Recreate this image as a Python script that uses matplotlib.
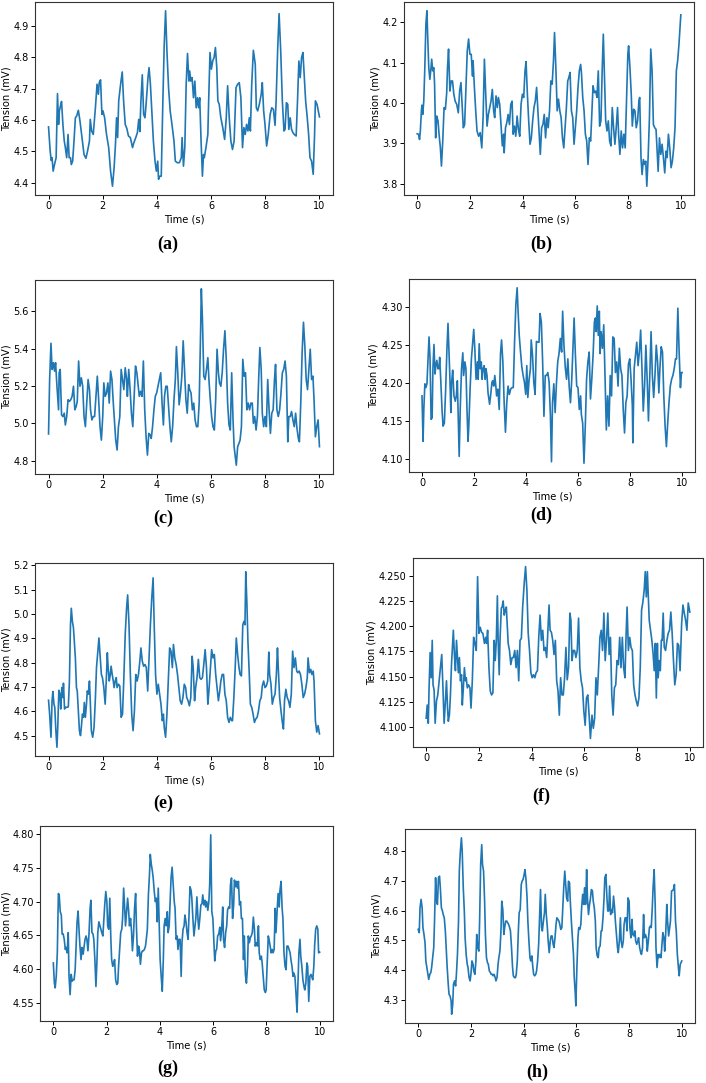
import matplotlib
matplotlib.use('Agg')
import matplotlib.pyplot as plt

# (a)
t_a = [0, 0.06, 0.10, 0.13, 0.17, 0.22, 0.28, 0.33, 0.37, 0.40, 0.44, 0.48, 0.53, 0.58, 0.62, 0.67, 0.72, 0.76, 0.81, 0.84,
       0.89, 0.94, 0.99, 1.04, 1.10, 1.16, 1.25, 1.31, 1.38, 1.44, 1.51, 1.54, 1.59, 1.65, 1.73, 1.79, 1.84, 1.87, 1.92, 1.97,
       2.01, 2.07, 2.14, 2.22, 2.29, 2.36, 2.42, 2.47, 2.51, 2.55, 2.59, 2.66, 2.72, 2.77, 2.83, 2.89, 2.95, 3.02, 3.10, 3.15,
       3.22, 3.28, 3.33, 3.37, 3.41, 3.46, 3.51, 3.56, 3.61, 3.67, 3.71, 3.76, 3.81, 3.87, 3.93, 3.98, 4.03, 4.06, 4.11, 4.16,
       4.22, 4.27, 4.32, 4.37, 4.43, 4.49, 4.57, 4.63, 4.68, 4.75, 4.83, 4.90, 4.93, 4.98, 5.03, 5.08, 5.13, 5.18, 5.21, 5.25,
       5.30, 5.35, 5.40, 5.45, 5.50, 5.54, 5.58, 5.63, 5.68, 5.72, 5.75, 5.81, 5.88, 5.91, 5.96, 6.01, 6.06, 6.11, 6.16, 6.21,
       6.25, 6.30, 6.36, 6.43, 6.50, 6.56, 6.61, 6.67, 6.73, 6.79, 6.85, 6.92, 6.98, 7.04, 7.10, 7.16, 7.21, 7.26, 7.31, 7.36,
       7.41, 7.45, 7.50, 7.56, 7.63, 7.67, 7.72, 7.78, 7.85, 7.89, 7.94, 7.99, 8.05, 8.11, 8.18, 8.24, 8.30, 8.36, 8.40, 8.46,
       8.51, 8.57, 8.63, 8.69, 8.73, 8.78, 8.83, 8.87, 8.92, 8.97, 9.02, 9.07, 9.14, 9.19, 9.24, 9.29, 9.34, 9.39, 9.44, 9.49,
       9.55, 9.60, 9.65, 9.71, 9.77, 9.82, 9.85, 9.91, 9.98, 10.0]
v_a = [4.578, 4.501, 4.471, 4.480, 4.437, 4.458, 4.480, 4.684, 4.586, 4.629, 4.645, 4.659, 4.586, 4.533, 4.512, 4.480, 4.554, 4.480, 4.480, 4.458,
       4.469, 4.533, 4.607, 4.613, 4.631, 4.597, 4.533, 4.490, 4.478, 4.501, 4.533, 4.602, 4.565, 4.554, 4.639, 4.714, 4.682, 4.719, 4.728, 4.618,
       4.629, 4.607, 4.554, 4.512, 4.437, 4.389, 4.448, 4.522, 4.607, 4.544, 4.661, 4.714, 4.753, 4.661, 4.586, 4.573, 4.549, 4.544, 4.512, 4.528,
       4.544, 4.560, 4.602, 4.563, 4.661, 4.744, 4.618, 4.607, 4.661, 4.735, 4.767, 4.714, 4.629, 4.533, 4.469, 4.437, 4.469, 4.411, 4.421, 4.421,
       4.661, 4.841, 4.948, 4.820, 4.703, 4.629, 4.576, 4.533, 4.469, 4.464, 4.464, 4.480, 4.544, 4.453, 4.512, 4.714, 4.812, 4.724, 4.756, 4.724,
       4.735, 4.671, 4.724, 4.639, 4.671, 4.639, 4.671, 4.533, 4.421, 4.490, 4.480, 4.512, 4.554, 4.661, 4.815, 4.762, 4.788, 4.799, 4.831, 4.767,
       4.661, 4.650, 4.607, 4.576, 4.538, 4.607, 4.709, 4.607, 4.533, 4.506, 4.533, 4.703, 4.714, 4.719, 4.671, 4.512, 4.576, 4.554, 4.586, 4.565,
       4.607, 4.565, 4.714, 4.822, 4.778, 4.639, 4.629, 4.650, 4.682, 4.719, 4.629, 4.586, 4.517, 4.554, 4.618, 4.639, 4.634, 4.583, 4.661, 4.831,
       4.939, 4.820, 4.661, 4.565, 4.570, 4.655, 4.650, 4.570, 4.607, 4.570, 4.560, 4.554, 4.549, 4.661, 4.788, 4.735, 4.799, 4.815, 4.735, 4.661,
       4.607, 4.554, 4.480, 4.469, 4.427, 4.554, 4.661, 4.650, 4.618, 4.610]

# (b)
t_b = [0, 0.05, 0.09, 0.12, 0.16, 0.18, 0.21, 0.25, 0.29, 0.33, 0.37, 0.40, 0.44, 0.48, 0.52, 0.55, 0.59, 0.63, 0.66, 0.70,
       0.74, 0.79, 0.83, 0.88, 0.92, 0.97, 1.02, 1.07, 1.12, 1.15, 1.19, 1.24, 1.29, 1.34, 1.39, 1.44, 1.50, 1.56, 1.61, 1.66,
       1.71, 1.75, 1.80, 1.85, 1.90, 1.95, 2.00, 2.05, 2.10, 2.12, 2.17, 2.22, 2.27, 2.33, 2.39, 2.45, 2.50, 2.55, 2.60, 2.65,
       2.70, 2.75, 2.80, 2.85, 2.90, 2.94, 2.99, 3.04, 3.08, 3.13, 3.18, 3.23, 3.28, 3.30, 3.35, 3.40, 3.45, 3.50, 3.55, 3.60,
       3.64, 3.69, 3.74, 3.79, 3.84, 3.89, 3.94, 3.99, 4.04, 4.09, 4.13, 4.18, 4.23, 4.28, 4.33, 4.38, 4.43, 4.48, 4.53, 4.58,
       4.63, 4.67, 4.72, 4.77, 4.82, 4.87, 4.92, 4.97, 5.02, 5.07, 5.12, 5.17, 5.21, 5.26, 5.31, 5.36, 5.41, 5.46, 5.51, 5.56,
       5.61, 5.66, 5.71, 5.75, 5.80, 5.85, 5.90, 5.95, 6.00, 6.05, 6.10, 6.15, 6.20, 6.23, 6.28, 6.33, 6.38, 6.43, 6.48, 6.53,
       6.58, 6.63, 6.67, 6.72, 6.77, 6.82, 6.87, 6.92, 6.97, 7.02, 7.06, 7.10, 7.15, 7.20, 7.25, 7.30, 7.35, 7.40, 7.45, 7.50,
       7.55, 7.60, 7.64, 7.69, 7.74, 7.79, 7.84, 7.89, 7.94, 7.99, 8.02, 8.07, 8.12, 8.16, 8.21, 8.26, 8.31, 8.36, 8.41, 8.44,
       8.49, 8.53, 8.58, 8.63, 8.67, 8.71, 8.76, 8.81, 8.86, 8.91, 8.96, 9.01, 9.06, 9.10, 9.14, 9.19, 9.24, 9.29, 9.34, 9.39,
       9.44, 9.48, 9.53, 9.58, 9.63, 9.68, 9.73, 9.78, 9.83, 9.88, 9.93, 10.0]
v_b = [3.924, 3.923, 3.910, 3.931, 3.981, 3.995, 3.972, 4.005, 4.088, 4.196, 4.229, 4.163, 4.088, 4.059, 4.084, 4.109, 4.080, 4.088, 4.047, 3.914,
       3.968, 3.956, 3.923, 3.889, 3.844, 3.906, 3.989, 3.985, 4.026, 4.088, 4.134, 4.030, 4.055, 4.055, 4.022, 4.005, 3.997, 3.976, 4.030, 4.051,
       3.989, 3.939, 3.947, 4.039, 4.130, 4.159, 4.121, 4.121, 4.067, 4.105, 4.039, 3.981, 3.931, 3.918, 3.927, 3.889, 3.964, 4.109, 4.022, 3.943,
       3.972, 3.989, 4.005, 4.034, 3.981, 3.964, 4.018, 3.989, 4.014, 3.997, 3.947, 3.894, 3.923, 3.877, 3.939, 3.952, 3.972, 3.947, 3.997, 4.005,
       3.923, 3.943, 3.918, 3.968, 3.935, 3.918, 3.997, 4.022, 4.014, 4.080, 4.103, 4.022, 3.956, 3.898, 3.914, 3.956, 3.989, 4.005, 4.039, 3.981,
       3.923, 3.873, 3.939, 3.947, 3.972, 3.914, 3.964, 3.939, 3.981, 4.055, 4.047, 4.105, 4.175, 4.088, 3.981, 4.010, 3.981, 3.964, 3.914, 3.889,
       3.939, 3.989, 4.055, 4.063, 4.076, 3.981, 3.964, 3.898, 3.939, 3.981, 4.039, 4.080, 4.096, 4.076, 4.014, 3.981, 3.923, 3.906, 3.848, 3.914,
       3.906, 3.981, 4.043, 4.026, 4.030, 4.014, 4.080, 3.943, 3.956, 4.088, 4.171, 4.072, 3.956, 3.931, 3.956, 3.906, 3.894, 3.989, 3.939, 3.898,
       3.939, 3.989, 3.923, 3.873, 3.931, 3.889, 3.923, 3.889, 4.005, 4.121, 4.142, 4.088, 4.022, 3.943, 3.985, 3.981, 3.939, 3.956, 4.005, 4.014,
       3.865, 3.823, 3.860, 3.848, 3.856, 3.794, 3.865, 3.964, 4.134, 4.080, 3.947, 3.939, 3.935, 3.881, 3.831, 3.914, 3.873, 3.898, 3.865, 3.827,
       3.881, 3.865, 3.923, 3.889, 3.840, 3.856, 3.889, 3.939, 4.080, 4.105, 4.146, 4.219]

# (c)
t_c = [0, 0.04, 0.09, 0.13, 0.18, 0.22, 0.26, 0.31, 0.37, 0.39, 0.43, 0.48, 0.53, 0.58, 0.62, 0.67, 0.72, 0.77, 0.82, 0.87,
       0.92, 0.97, 1.02, 1.06, 1.11, 1.16, 1.21, 1.26, 1.31, 1.36, 1.41, 1.46, 1.51, 1.55, 1.60, 1.65, 1.70, 1.75, 1.80, 1.85,
       1.90, 1.95, 2.00, 2.04, 2.09, 2.14, 2.19, 2.24, 2.29, 2.34, 2.39, 2.44, 2.48, 2.53, 2.58, 2.63, 2.68, 2.73, 2.78, 2.83,
       2.88, 2.91, 2.96, 3.01, 3.06, 3.11, 3.16, 3.21, 3.26, 3.30, 3.35, 3.40, 3.45, 3.50, 3.55, 3.60, 3.65, 3.70, 3.75, 3.79,
       3.84, 3.89, 3.94, 3.99, 4.04, 4.09, 4.14, 4.19, 4.24, 4.28, 4.33, 4.38, 4.43, 4.48, 4.53, 4.58, 4.63, 4.68, 4.72, 4.77,
       4.82, 4.87, 4.92, 4.97, 5.02, 5.07, 5.12, 5.17, 5.21, 5.26, 5.31, 5.36, 5.41, 5.46, 5.51, 5.56, 5.61, 5.64, 5.68, 5.73,
       5.78, 5.83, 5.88, 5.92, 5.97, 6.02, 6.07, 6.12, 6.17, 6.22, 6.27, 6.31, 6.36, 6.41, 6.46, 6.51, 6.56, 6.61, 6.66, 6.71,
       6.76, 6.81, 6.85, 6.90, 6.93, 6.98, 7.03, 7.07, 7.12, 7.17, 7.22, 7.27, 7.32, 7.37, 7.42, 7.47, 7.52, 7.56, 7.61, 7.66,
       7.71, 7.76, 7.80, 7.85, 7.89, 7.94, 7.99, 8.04, 8.09, 8.14, 8.19, 8.24, 8.29, 8.34, 8.38, 8.43, 8.48, 8.53, 8.58, 8.63,
       8.68, 8.73, 8.78, 8.83, 8.87, 8.92, 8.97, 9.02, 9.07, 9.12, 9.17, 9.22, 9.26, 9.31, 9.36, 9.41, 9.46, 9.51, 9.56, 9.61,
       9.66, 9.71, 9.76, 9.80, 9.85, 9.90, 9.95, 10.0]
v_c = [4.944, 5.235, 5.429, 5.289, 5.325, 5.280, 5.325, 5.199, 5.073, 5.271, 5.289, 5.046, 5.037, 5.055, 4.992, 5.037, 5.127, 5.118, 5.127, 5.145,
       5.199, 5.073, 5.091, 5.118, 5.334, 5.199, 5.244, 5.199, 5.037, 4.983, 5.109, 5.235, 5.181, 5.073, 5.019, 5.037, 5.037, 5.145, 5.253, 5.127,
       4.983, 4.911, 5.037, 5.217, 5.145, 5.163, 5.217, 5.109, 5.280, 5.235, 5.109, 5.001, 4.911, 4.858, 4.983, 5.037, 5.289, 5.235, 5.181, 5.298,
       5.235, 5.145, 5.289, 5.181, 5.055, 4.983, 5.145, 5.307, 5.271, 5.217, 5.145, 5.172, 5.145, 5.334, 5.073, 4.929, 4.831, 4.947, 4.938, 4.920,
       4.983, 5.073, 5.145, 5.163, 5.199, 5.235, 5.271, 5.109, 4.992, 5.145, 5.199, 5.199, 5.091, 4.983, 4.902, 4.983, 5.127, 5.235, 5.411, 5.271,
       5.100, 5.163, 5.253, 5.442, 5.289, 5.127, 5.055, 5.208, 5.181, 5.163, 5.073, 5.109, 5.019, 4.983, 4.983, 5.109, 5.469, 5.720, 5.559, 5.253,
       5.235, 5.289, 5.352, 5.235, 5.127, 5.037, 4.983, 4.965, 5.127, 5.397, 5.271, 5.217, 5.199, 5.271, 5.397, 5.496, 5.343, 5.109, 4.992, 4.965,
       5.271, 5.019, 4.876, 4.813, 4.777, 4.876, 4.894, 4.911, 4.983, 5.343, 5.253, 5.271, 5.073, 5.109, 5.073, 5.109, 5.109, 5.001, 5.037, 4.965,
       5.037, 5.253, 5.406, 5.289, 5.055, 4.983, 5.037, 4.983, 5.235, 5.073, 4.947, 5.055, 5.073, 5.235, 5.316, 5.073, 5.037, 5.073, 5.163, 5.271,
       5.289, 5.334, 5.253, 4.902, 5.037, 5.037, 5.064, 5.019, 4.983, 5.055, 4.974, 4.920, 4.902, 5.109, 5.379, 5.541, 5.415, 5.235, 5.181, 5.289,
       5.397, 5.235, 5.253, 5.127, 4.929, 4.983, 5.019, 4.876]

# (d)
t_d = [0, 0.04, 0.07, 0.11, 0.15, 0.19, 0.24, 0.27, 0.31, 0.35, 0.39, 0.42, 0.46, 0.50, 0.53, 0.57, 0.61, 0.65, 0.68, 0.72,
       0.77, 0.81, 0.86, 0.91, 0.96, 1.00, 1.03, 1.07, 1.11, 1.14, 1.18, 1.23, 1.28, 1.32, 1.36, 1.39, 1.43, 1.47, 1.52, 1.57,
       1.60, 1.65, 1.69, 1.73, 1.77, 1.80, 1.85, 1.90, 1.95, 1.99, 2.03, 2.08, 2.13, 2.16, 2.20, 2.24, 2.28, 2.31, 2.35, 2.39,
       2.43, 2.46, 2.50, 2.54, 2.57, 2.60, 2.65, 2.69, 2.72, 2.76, 2.80, 2.84, 2.87, 2.92, 2.97, 3.02, 3.06, 3.11, 3.16, 3.21,
       3.26, 3.31, 3.36, 3.41, 3.46, 3.51, 3.56, 3.61, 3.66, 3.69, 3.74, 3.79, 3.84, 3.89, 3.94, 3.99, 4.03, 4.07, 4.12, 4.17,
       4.20, 4.25, 4.30, 4.35, 4.40, 4.45, 4.50, 4.54, 4.59, 4.64, 4.69, 4.74, 4.79, 4.84, 4.89, 4.94, 4.98, 5.02, 5.07, 5.12,
       5.17, 5.22, 5.27, 5.32, 5.37, 5.41, 5.46, 5.51, 5.56, 5.61, 5.66, 5.71, 5.76, 5.81, 5.85, 5.90, 5.95, 6.00, 6.05, 6.10,
       6.13, 6.18, 6.23, 6.28, 6.33, 6.38, 6.43, 6.48, 6.53, 6.58, 6.63, 6.67, 6.70, 6.74, 6.78, 6.82, 6.85, 6.89, 6.94, 6.99,
       7.04, 7.09, 7.14, 7.19, 7.24, 7.29, 7.34, 7.39, 7.44, 7.49, 7.54, 7.59, 7.64, 7.69, 7.74, 7.79, 7.84, 7.89, 7.94, 7.99,
       8.04, 8.09, 8.11, 8.16, 8.21, 8.26, 8.31, 8.36, 8.41, 8.46, 8.51, 8.56, 8.61, 8.66, 8.71, 8.76, 8.81, 8.86, 8.91, 8.96,
       9.01, 9.06, 9.11, 9.15, 9.20, 9.25, 9.30, 9.35, 9.40, 9.45, 9.50, 9.55, 9.60, 9.65, 9.70, 9.75, 9.79, 9.84, 9.89, 9.94,
       9.98, 10.0]
v_d = [4.183, 4.123, 4.165, 4.199, 4.194, 4.199, 4.237, 4.261, 4.232, 4.152, 4.154, 4.219, 4.251, 4.212, 4.223, 4.230, 4.219, 4.219, 4.234, 4.205,
       4.165, 4.143, 4.147, 4.192, 4.246, 4.279, 4.250, 4.210, 4.161, 4.201, 4.217, 4.183, 4.176, 4.183, 4.203, 4.161, 4.103, 4.165, 4.219, 4.240,
       4.210, 4.228, 4.219, 4.165, 4.123, 4.143, 4.192, 4.232, 4.254, 4.271, 4.246, 4.205, 4.228, 4.205, 4.252, 4.219, 4.228, 4.205, 4.219, 4.223,
       4.205, 4.219, 4.210, 4.187, 4.179, 4.172, 4.187, 4.201, 4.203, 4.196, 4.210, 4.196, 4.183, 4.192, 4.165, 4.239, 4.257, 4.228, 4.174, 4.135,
       4.174, 4.196, 4.185, 4.192, 4.194, 4.194, 4.254, 4.304, 4.326, 4.299, 4.263, 4.241, 4.221, 4.210, 4.201, 4.185, 4.223, 4.181, 4.205, 4.219,
       4.257, 4.237, 4.201, 4.185, 4.255, 4.254, 4.254, 4.292, 4.281, 4.228, 4.156, 4.210, 4.210, 4.214, 4.201, 4.156, 4.096, 4.174, 4.199, 4.161,
       4.199, 4.228, 4.239, 4.259, 4.241, 4.295, 4.250, 4.221, 4.205, 4.232, 4.196, 4.174, 4.205, 4.250, 4.286, 4.237, 4.196, 4.194, 4.165, 4.183,
       4.158, 4.147, 4.094, 4.143, 4.205, 4.228, 4.241, 4.179, 4.205, 4.237, 4.281, 4.286, 4.268, 4.302, 4.263, 4.295, 4.239, 4.268, 4.246, 4.277,
       4.205, 4.138, 4.183, 4.143, 4.210, 4.183, 4.261, 4.259, 4.214, 4.228, 4.196, 4.246, 4.219, 4.210, 4.165, 4.134, 4.174, 4.183, 4.225, 4.232,
       4.205, 4.170, 4.121, 4.219, 4.237, 4.254, 4.223, 4.241, 4.270, 4.219, 4.163, 4.196, 4.250, 4.205, 4.150, 4.210, 4.268, 4.210, 4.181, 4.210,
       4.250, 4.228, 4.187, 4.219, 4.248, 4.241, 4.183, 4.143, 4.116, 4.147, 4.174, 4.196, 4.205, 4.210, 4.219, 4.232, 4.232, 4.299, 4.241, 4.194,
       4.214, 4.214]

# (e)
t_e = [0, 0.04, 0.09, 0.13, 0.16, 0.20, 0.23, 0.27, 0.31, 0.34, 0.38, 0.42, 0.45, 0.49, 0.53, 0.55, 0.59, 0.62, 0.67, 0.73,
       0.77, 0.81, 0.84, 0.88, 0.92, 0.95, 0.99, 1.03, 1.06, 1.10, 1.14, 1.18, 1.21, 1.25, 1.29, 1.32, 1.36, 1.40, 1.43, 1.47,
       1.51, 1.54, 1.58, 1.63, 1.68, 1.73, 1.77, 1.82, 1.86, 1.90, 1.95, 1.99, 2.04, 2.09, 2.13, 2.17, 2.20, 2.24, 2.28, 2.31,
       2.35, 2.39, 2.42, 2.46, 2.50, 2.53, 2.58, 2.63, 2.68, 2.73, 2.78, 2.83, 2.88, 2.92, 2.97, 3.02, 3.07, 3.12, 3.17, 3.22,
       3.27, 3.32, 3.37, 3.41, 3.46, 3.51, 3.56, 3.61, 3.66, 3.71, 3.76, 3.81, 3.86, 3.90, 3.95, 4.00, 4.05, 4.10, 4.15, 4.20,
       4.24, 4.27, 4.32, 4.37, 4.42, 4.47, 4.52, 4.57, 4.61, 4.66, 4.71, 4.76, 4.81, 4.86, 4.91, 4.96, 5.01, 5.06, 5.10, 5.15,
       5.20, 5.25, 5.30, 5.34, 5.39, 5.43, 5.48, 5.53, 5.58, 5.63, 5.68, 5.73, 5.78, 5.83, 5.88, 5.92, 5.97, 6.02, 6.07, 6.12,
       6.17, 6.22, 6.27, 6.32, 6.36, 6.41, 6.46, 6.51, 6.56, 6.61, 6.66, 6.71, 6.76, 6.79, 6.84, 6.89, 6.93, 6.98, 7.03, 7.07,
       7.12, 7.17, 7.21, 7.25, 7.28, 7.32, 7.36, 7.41, 7.45, 7.50, 7.55, 7.60, 7.65, 7.70, 7.75, 7.80, 7.85, 7.89, 7.94, 7.99,
       8.04, 8.09, 8.13, 8.16, 8.21, 8.26, 8.31, 8.36, 8.41, 8.45, 8.48, 8.53, 8.58, 8.63, 8.67, 8.71, 8.76, 8.81, 8.86, 8.91,
       8.96, 9.01, 9.06, 9.11, 9.16, 9.20, 9.25, 9.30, 9.35, 9.40, 9.45, 9.50, 9.55, 9.58, 9.63, 9.68, 9.72, 9.77, 9.80, 9.85,
       9.90, 9.95, 10.0]
v_e = [4.645, 4.588, 4.493, 4.643, 4.681, 4.629, 4.616, 4.520, 4.452, 4.534, 4.686, 4.670, 4.609, 4.697, 4.656, 4.715, 4.609, 4.616, 4.616, 4.618,
       4.724, 4.955, 5.023, 4.969, 4.942, 4.887, 4.819, 4.697, 4.683, 4.602, 4.520, 4.500, 4.534, 4.588, 4.575, 4.636, 4.575, 4.629, 4.683, 4.670,
       4.724, 4.643, 4.520, 4.493, 4.534, 4.656, 4.779, 4.847, 4.901, 4.833, 4.751, 4.738, 4.697, 4.629, 4.724, 4.840, 4.779, 4.724, 4.751, 4.785,
       4.751, 4.724, 4.697, 4.724, 4.738, 4.697, 4.711, 4.704, 4.575, 4.588, 4.738, 4.915, 5.023, 5.078, 4.955, 4.751, 4.588, 4.520, 4.602, 4.751,
       4.724, 4.751, 4.806, 4.860, 4.806, 4.785, 4.792, 4.779, 4.683, 4.819, 4.955, 5.064, 5.148, 4.955, 4.751, 4.670, 4.711, 4.670, 4.629, 4.561,
       4.588, 4.534, 4.493, 4.588, 4.724, 4.860, 4.847, 4.779, 4.874, 4.819, 4.792, 4.751, 4.697, 4.643, 4.629, 4.656, 4.711, 4.697, 4.656, 4.643,
       4.622, 4.656, 4.826, 4.779, 4.643, 4.697, 4.738, 4.813, 4.738, 4.731, 4.738, 4.792, 4.853, 4.779, 4.629, 4.683, 4.765, 4.853, 4.819, 4.833,
       4.751, 4.697, 4.643, 4.683, 4.724, 4.751, 4.751, 4.670, 4.643, 4.575, 4.554, 4.575, 4.561, 4.561, 4.656, 4.779, 4.901, 4.833, 4.779, 4.751,
       4.745, 4.955, 4.969, 4.955, 5.173, 5.050, 4.887, 4.751, 4.629, 4.616, 4.588, 4.554, 4.568, 4.575, 4.602, 4.643, 4.656, 4.704, 4.724, 4.697,
       4.704, 4.724, 4.843, 4.751, 4.711, 4.629, 4.656, 4.670, 4.751, 4.860, 4.779, 4.656, 4.602, 4.554, 4.527, 4.643, 4.690, 4.656, 4.643, 4.616,
       4.670, 4.847, 4.779, 4.819, 4.765, 4.758, 4.765, 4.751, 4.711, 4.656, 4.670, 4.697, 4.738, 4.819, 4.758, 4.772, 4.751, 4.765, 4.724, 4.561,
       4.514, 4.541, 4.507]

# (f)
t_f = [0, 0.04, 0.08, 0.11, 0.15, 0.19, 0.23, 0.26, 0.30, 0.34, 0.39, 0.44, 0.49, 0.54, 0.59, 0.64, 0.68, 0.73, 0.77, 0.81,
       0.84, 0.88, 0.92, 0.96, 0.99, 1.03, 1.07, 1.11, 1.15, 1.18, 1.22, 1.26, 1.30, 1.34, 1.37, 1.41, 1.45, 1.49, 1.52, 1.56,
       1.61, 1.66, 1.70, 1.75, 1.80, 1.85, 1.90, 1.95, 2.00, 2.05, 2.10, 2.15, 2.21, 2.26, 2.29, 2.33, 2.38, 2.43, 2.48, 2.53,
       2.58, 2.62, 2.66, 2.70, 2.73, 2.77, 2.80, 2.85, 2.88, 2.92, 2.96, 3.00, 3.04, 3.07, 3.11, 3.16, 3.21, 3.26, 3.31, 3.36,
       3.41, 3.46, 3.51, 3.56, 3.61, 3.66, 3.72, 3.77, 3.82, 3.87, 3.92, 3.97, 4.02, 4.07, 4.12, 4.17, 4.22, 4.27, 4.32, 4.37,
       4.42, 4.47, 4.52, 4.57, 4.62, 4.66, 4.70, 4.75, 4.80, 4.85, 4.90, 4.95, 5.00, 5.05, 5.10, 5.15, 5.20, 5.25, 5.30, 5.35,
       5.40, 5.45, 5.49, 5.53, 5.58, 5.63, 5.68, 5.73, 5.78, 5.83, 5.88, 5.93, 5.98, 6.03, 6.08, 6.13, 6.18, 6.23, 6.29, 6.34,
       6.39, 6.44, 6.49, 6.54, 6.59, 6.64, 6.69, 6.74, 6.79, 6.84, 6.89, 6.94, 6.99, 7.04, 7.09, 7.14, 7.19, 7.24, 7.29, 7.34,
       7.39, 7.44, 7.49, 7.54, 7.58, 7.62, 7.67, 7.72, 7.77, 7.82, 7.87, 7.92, 7.97, 8.02, 8.07, 8.12, 8.17, 8.22, 8.27, 8.31,
       8.35, 8.39, 8.43, 8.46, 8.51, 8.56, 8.61, 8.65, 8.69, 8.73, 8.77, 8.80, 8.84, 8.88, 8.92, 8.95, 8.99, 9.03, 9.08, 9.13,
       9.18, 9.23, 9.28, 9.33, 9.38, 9.43, 9.48, 9.53, 9.58, 9.63, 9.69, 9.74, 9.79, 9.84, 9.89, 9.94, 10.0]
v_f = [4.109, 4.122, 4.104, 4.139, 4.174, 4.149, 4.186, 4.142, 4.137, 4.104, 4.126, 4.132, 4.146, 4.159, 4.172, 4.136, 4.104, 4.126, 4.146, 4.119,
       4.106, 4.112, 4.132, 4.162, 4.176, 4.196, 4.172, 4.156, 4.186, 4.172, 4.154, 4.169, 4.146, 4.152, 4.122, 4.139, 4.159, 4.146, 4.149, 4.139,
       4.142, 4.139, 4.119, 4.146, 4.189, 4.183, 4.176, 4.249, 4.193, 4.199, 4.194, 4.193, 4.183, 4.189, 4.183, 4.196, 4.159, 4.136, 4.132, 4.134,
       4.186, 4.166, 4.186, 4.230, 4.186, 4.152, 4.186, 4.218, 4.219, 4.225, 4.211, 4.216, 4.219, 4.203, 4.183, 4.176, 4.162, 4.169, 4.169, 4.176,
       4.159, 4.176, 4.146, 4.186, 4.188, 4.219, 4.243, 4.259, 4.236, 4.193, 4.176, 4.154, 4.149, 4.152, 4.149, 4.154, 4.156, 4.189, 4.211, 4.186,
       4.196, 4.176, 4.179, 4.169, 4.198, 4.221, 4.196, 4.194, 4.186, 4.172, 4.186, 4.146, 4.136, 4.112, 4.149, 4.132, 4.132, 4.149, 4.179, 4.147,
       4.159, 4.213, 4.206, 4.166, 4.176, 4.176, 4.169, 4.176, 4.208, 4.159, 4.146, 4.139, 4.116, 4.102, 4.129, 4.132, 4.112, 4.089, 4.112, 4.099,
       4.109, 4.149, 4.132, 4.159, 4.189, 4.196, 4.176, 4.213, 4.166, 4.186, 4.213, 4.172, 4.189, 4.132, 4.112, 4.139, 4.142, 4.166, 4.162, 4.189,
       4.159, 4.189, 4.159, 4.149, 4.189, 4.219, 4.176, 4.189, 4.179, 4.176, 4.142, 4.132, 4.126, 4.121, 4.129, 4.159, 4.216, 4.224, 4.236, 4.254,
       4.229, 4.254, 4.226, 4.206, 4.196, 4.186, 4.172, 4.156, 4.183, 4.129, 4.183, 4.149, 4.166, 4.156, 4.186, 4.186, 4.213, 4.179, 4.176, 4.186,
       4.193, 4.196, 4.214, 4.193, 4.166, 4.142, 4.152, 4.183, 4.181, 4.156, 4.203, 4.221, 4.213, 4.206, 4.196, 4.223, 4.214]

# (g)
t_g = [0, 0.04, 0.07, 0.11, 0.15, 0.19, 0.22, 0.26, 0.30, 0.33, 0.37, 0.41, 0.45, 0.48, 0.52, 0.56, 0.59, 0.63, 0.67, 0.71,
       0.74, 0.78, 0.82, 0.86, 0.89, 0.93, 0.97, 1.00, 1.04, 1.08, 1.12, 1.15, 1.19, 1.23, 1.26, 1.30, 1.34, 1.38, 1.41, 1.45,
       1.49, 1.52, 1.56, 1.60, 1.64, 1.67, 1.71, 1.75, 1.78, 1.82, 1.86, 1.90, 1.93, 1.97, 2.01, 2.04, 2.08, 2.12, 2.16, 2.19,
       2.23, 2.27, 2.30, 2.34, 2.38, 2.42, 2.45, 2.49, 2.53, 2.57, 2.60, 2.64, 2.68, 2.71, 2.75, 2.79, 2.83, 2.86, 2.90, 2.94,
       2.97, 3.01, 3.05, 3.09, 3.12, 3.16, 3.20, 3.23, 3.27, 3.31, 3.35, 3.38, 3.42, 3.46, 3.49, 3.53, 3.57, 3.61, 3.64, 3.68,
       3.72, 3.75, 3.79, 3.83, 3.87, 3.90, 3.94, 3.98, 4.01, 4.05, 4.09, 4.13, 4.16, 4.20, 4.24, 4.28, 4.31, 4.35, 4.39, 4.42,
       4.46, 4.50, 4.54, 4.57, 4.61, 4.65, 4.68, 4.72, 4.76, 4.80, 4.83, 4.87, 4.91, 4.94, 4.98, 5.02, 5.06, 5.09, 5.13, 5.17,
       5.20, 5.24, 5.28, 5.32, 5.35, 5.39, 5.43, 5.46, 5.50, 5.54, 5.58, 5.61, 5.65, 5.69, 5.72, 5.76, 5.80, 5.84, 5.87, 5.91,
       5.95, 5.99, 6.02, 6.06, 6.10, 6.13, 6.17, 6.21, 6.25, 6.28, 6.32, 6.36, 6.39, 6.43, 6.47, 6.51, 6.54, 6.58, 6.62, 6.65,
       6.69, 6.73, 6.77, 6.80, 6.84, 6.88, 6.91, 6.95, 6.99, 7.03, 7.06, 7.10, 7.14, 7.17, 7.21, 7.25, 7.29, 7.32, 7.36, 7.40,
       7.43, 7.47, 7.51, 7.55, 7.58, 7.62, 7.66, 7.70, 7.73, 7.77, 7.81, 7.84, 7.88, 7.92, 7.96, 7.99, 8.03, 8.07, 8.10, 8.14,
       8.18, 8.22, 8.25, 8.29, 8.33, 8.36, 8.40, 8.44, 8.48, 8.51, 8.55, 8.59, 8.62, 8.66, 8.70, 8.74, 8.77, 8.81, 8.85, 8.89,
       8.92, 8.96, 9.00, 9.03, 9.07, 9.11, 9.15, 9.18, 9.22, 9.26, 9.29, 9.33, 9.37, 9.41, 9.44, 9.48, 9.52, 9.55, 9.59, 9.63,
       9.67, 9.70, 9.74, 9.78, 9.81, 9.85, 9.89, 9.93, 9.96, 10.0]
v_g = [4.609, 4.579, 4.572, 4.589, 4.624, 4.712, 4.710, 4.685, 4.680, 4.652, 4.652, 4.644, 4.629, 4.632, 4.624, 4.654, 4.589, 4.562, 4.592, 4.582,
       4.584, 4.584, 4.599, 4.639, 4.669, 4.686, 4.654, 4.634, 4.614, 4.632, 4.622, 4.632, 4.644, 4.649, 4.644, 4.627, 4.652, 4.690, 4.702, 4.654,
       4.652, 4.644, 4.614, 4.574, 4.614, 4.654, 4.670, 4.664, 4.659, 4.654, 4.649, 4.675, 4.695, 4.715, 4.700, 4.664, 4.659, 4.705, 4.644, 4.614,
       4.604, 4.609, 4.614, 4.584, 4.577, 4.579, 4.604, 4.629, 4.654, 4.659, 4.675, 4.720, 4.690, 4.664, 4.685, 4.705, 4.685, 4.664, 4.675, 4.654,
       4.627, 4.649, 4.690, 4.712, 4.664, 4.619, 4.634, 4.629, 4.607, 4.624, 4.627, 4.627, 4.629, 4.634, 4.644, 4.659, 4.710, 4.740, 4.770, 4.755,
       4.745, 4.735, 4.715, 4.700, 4.705, 4.670, 4.720, 4.659, 4.614, 4.589, 4.567, 4.614, 4.664, 4.675, 4.664, 4.685, 4.654, 4.664, 4.705, 4.735,
       4.751, 4.725, 4.700, 4.690, 4.644, 4.649, 4.629, 4.644, 4.644, 4.589, 4.639, 4.659, 4.664, 4.680, 4.670, 4.654, 4.644, 4.675, 4.722, 4.717,
       4.705, 4.675, 4.649, 4.664, 4.675, 4.707, 4.675, 4.659, 4.675, 4.695, 4.697, 4.710, 4.695, 4.702, 4.692, 4.700, 4.687, 4.700, 4.725, 4.799,
       4.685, 4.675, 4.649, 4.612, 4.627, 4.629, 4.649, 4.652, 4.662, 4.642, 4.659, 4.692, 4.644, 4.632, 4.654, 4.664, 4.687, 4.692, 4.690, 4.725,
       4.735, 4.675, 4.695, 4.732, 4.722, 4.730, 4.720, 4.730, 4.695, 4.700, 4.675, 4.675, 4.614, 4.649, 4.592, 4.579, 4.604, 4.649, 4.639, 4.647,
       4.649, 4.654, 4.677, 4.659, 4.634, 4.639, 4.634, 4.664, 4.624, 4.614, 4.619, 4.609, 4.589, 4.569, 4.565, 4.569, 4.609, 4.649, 4.644, 4.634,
       4.624, 4.629, 4.624, 4.629, 4.690, 4.654, 4.685, 4.712, 4.692, 4.717, 4.730, 4.690, 4.675, 4.624, 4.604, 4.599, 4.634, 4.634, 4.629, 4.624,
       4.614, 4.604, 4.589, 4.594, 4.589, 4.564, 4.536, 4.574, 4.624, 4.644, 4.619, 4.604, 4.584, 4.574, 4.569, 4.579, 4.609, 4.604, 4.552, 4.589,
       4.592, 4.589, 4.584, 4.604, 4.634, 4.659, 4.664, 4.659, 4.624, 4.625]

# (h)
t_h = [0, 0.04, 0.07, 0.11, 0.15, 0.18, 0.22, 0.26, 0.29, 0.33, 0.37, 0.40, 0.44, 0.48, 0.51, 0.55, 0.59, 0.62, 0.66, 0.70,
       0.73, 0.77, 0.81, 0.84, 0.88, 0.92, 0.95, 0.99, 1.03, 1.06, 1.10, 1.14, 1.17, 1.21, 1.25, 1.27, 1.31, 1.34, 1.38, 1.42,
       1.45, 1.49, 1.53, 1.56, 1.60, 1.64, 1.67, 1.71, 1.75, 1.78, 1.82, 1.86, 1.89, 1.93, 1.97, 2.00, 2.04, 2.08, 2.11, 2.15,
       2.19, 2.22, 2.26, 2.30, 2.33, 2.37, 2.41, 2.44, 2.48, 2.52, 2.55, 2.59, 2.63, 2.66, 2.70, 2.74, 2.77, 2.81, 2.84, 2.88,
       2.92, 2.95, 2.99, 3.03, 3.06, 3.10, 3.14, 3.17, 3.21, 3.25, 3.28, 3.32, 3.36, 3.39, 3.43, 3.47, 3.50, 3.54, 3.58, 3.61,
       3.65, 3.69, 3.72, 3.76, 3.80, 3.83, 3.87, 3.91, 3.94, 3.98, 4.02, 4.05, 4.09, 4.13, 4.16, 4.20, 4.24, 4.27, 4.31, 4.35,
       4.38, 4.42, 4.46, 4.49, 4.53, 4.57, 4.60, 4.64, 4.68, 4.71, 4.75, 4.79, 4.82, 4.86, 4.90, 4.93, 4.97, 5.01, 5.04, 5.08,
       5.12, 5.15, 5.19, 5.23, 5.26, 5.30, 5.34, 5.37, 5.41, 5.45, 5.48, 5.52, 5.56, 5.59, 5.63, 5.67, 5.70, 5.74, 5.77, 5.81,
       5.85, 5.89, 5.92, 5.96, 5.98, 6.02, 6.06, 6.09, 6.13, 6.17, 6.20, 6.24, 6.28, 6.31, 6.35, 6.39, 6.42, 6.46, 6.50, 6.53,
       6.57, 6.61, 6.64, 6.68, 6.72, 6.75, 6.79, 6.83, 6.86, 6.90, 6.94, 6.97, 7.01, 7.05, 7.08, 7.12, 7.16, 7.19, 7.23, 7.26,
       7.30, 7.34, 7.37, 7.41, 7.45, 7.48, 7.52, 7.56, 7.59, 7.63, 7.67, 7.70, 7.74, 7.78, 7.81, 7.85, 7.89, 7.92, 7.96, 8.00,
       8.03, 8.07, 8.11, 8.14, 8.18, 8.22, 8.25, 8.29, 8.33, 8.36, 8.40, 8.44, 8.47, 8.51, 8.55, 8.58, 8.62, 8.66, 8.69, 8.73,
       8.77, 8.80, 8.84, 8.88, 8.91, 8.95, 8.99, 9.02, 9.06, 9.10, 9.13, 9.17, 9.21, 9.24, 9.28, 9.32, 9.35, 9.39, 9.43, 9.46,
       9.50, 9.54, 9.57, 9.61, 9.65, 9.68, 9.72, 9.76, 9.79, 9.83, 9.87, 9.90, 9.94, 10.0]
v_h = [4.537, 4.526, 4.610, 4.638, 4.610, 4.543, 4.520, 4.492, 4.431, 4.409, 4.386, 4.369, 4.386, 4.392, 4.409, 4.442, 4.476, 4.565, 4.711, 4.632,
       4.621, 4.711, 4.716, 4.677, 4.610, 4.599, 4.587, 4.576, 4.532, 4.476, 4.409, 4.353, 4.319, 4.313, 4.297, 4.252, 4.285, 4.353, 4.364, 4.347,
       4.386, 4.453, 4.565, 4.733, 4.800, 4.845, 4.800, 4.677, 4.599, 4.509, 4.453, 4.420, 4.409, 4.375, 4.364, 4.386, 4.431, 4.420, 4.397, 4.386,
       4.431, 4.520, 4.476, 4.464, 4.565, 4.755, 4.822, 4.755, 4.733, 4.632, 4.520, 4.442, 4.425, 4.420, 4.397, 4.392, 4.386, 4.386, 4.381, 4.386,
       4.375, 4.364, 4.375, 4.420, 4.442, 4.464, 4.532, 4.632, 4.604, 4.520, 4.543, 4.565, 4.565, 4.560, 4.554, 4.543, 4.532, 4.476, 4.409, 4.381,
       4.375, 4.375, 4.386, 4.431, 4.532, 4.593, 4.604, 4.688, 4.699, 4.705, 4.722, 4.738, 4.705, 4.643, 4.565, 4.498, 4.442, 4.431, 4.448, 4.409,
       4.386, 4.381, 4.386, 4.397, 4.431, 4.487, 4.565, 4.671, 4.543, 4.532, 4.565, 4.593, 4.655, 4.587, 4.543, 4.498, 4.459, 4.498, 4.515, 4.515,
       4.487, 4.476, 4.509, 4.554, 4.576, 4.571, 4.565, 4.554, 4.537, 4.543, 4.599, 4.677, 4.733, 4.694, 4.643, 4.632, 4.699, 4.694, 4.632, 4.565,
       4.509, 4.453, 4.375, 4.319, 4.280, 4.409, 4.509, 4.543, 4.537, 4.554, 4.610, 4.655, 4.621, 4.677, 4.621, 4.738, 4.643, 4.587, 4.621, 4.638,
       4.671, 4.666, 4.632, 4.610, 4.565, 4.476, 4.448, 4.442, 4.476, 4.481, 4.532, 4.532, 4.576, 4.643, 4.711, 4.722, 4.643, 4.599, 4.599, 4.683,
       4.587, 4.604, 4.593, 4.649, 4.610, 4.565, 4.520, 4.476, 4.459, 4.498, 4.576, 4.498, 4.476, 4.498, 4.554, 4.576, 4.576, 4.532, 4.643, 4.632,
       4.543, 4.509, 4.571, 4.520, 4.515, 4.532, 4.498, 4.487, 4.498, 4.509, 4.476, 4.459, 4.453, 4.476, 4.587, 4.509, 4.520, 4.509, 4.464, 4.498,
       4.543, 4.548, 4.543, 4.610, 4.677, 4.738, 4.621, 4.476, 4.409, 4.453, 4.442, 4.453, 4.442, 4.476, 4.526, 4.509, 4.464, 4.526, 4.621, 4.565,
       4.515, 4.543, 4.565, 4.666, 4.668, 4.671, 4.688, 4.565, 4.532, 4.453, 4.409, 4.381, 4.420, 4.431]

W, H = 706, 1083

# panels: data, axes box in pixels (left, top, right, bottom), caption position, ylabel pad
panels = [
    (t_a, v_a, (35, 2, 333, 195), '(a)', (168, 244), 1.5),
    (t_b, v_b, (404, 2, 694, 195), '(b)', (541, 244), 1.5),
    (t_c, v_c, (35, 280, 333, 474), '(c)', (163, 518), 1.5),
    (t_d, v_d, (409, 279, 695, 472), '(d)', (541, 515), 1.5),
    (t_e, v_e, (35, 563, 333, 756), '(e)', (163, 803), 1.5),
    (t_f, v_f, (413, 558, 703, 747), '(f)', (541, 796), 1.5),
    (t_g, v_g, (40, 826, 333, 1021), '(g)', (168, 1068), 0.3),
    (t_h, v_h, (405, 829, 695, 1023), '(h)', (537, 1072), 1.5),
]

fig = plt.figure(figsize=(W / 100, H / 100), dpi=100)

for t, v, box, cap, cpos, ypad in panels:
    l, top, r, b = box
    ax = fig.add_axes([l / W, 1 - b / H, (r - l) / W, (b - top) / H])
    ax.plot(t, v, color='#1f77b4', linewidth=1.2)
    ax.set_xticks([0, 2, 4, 6, 8, 10])
    ax.tick_params(labelsize=7, length=3, width=0.7, pad=1.5)
    ax.set_xlabel('Time (s)', fontsize=7.2, labelpad=2)
    ax.set_ylabel('Tension (mV)', fontsize=7.2, labelpad=ypad)
    for s in ax.spines.values():
        s.set_linewidth(0.8)
        s.set_color('#333333')
    fig.text(cpos[0] / W, 1 - cpos[1] / H, cap, ha='center', va='center',
             fontsize=13, fontweight='bold', family=['Liberation Serif', 'DejaVu Serif'])

fig.savefig('out.png', dpi=100)
